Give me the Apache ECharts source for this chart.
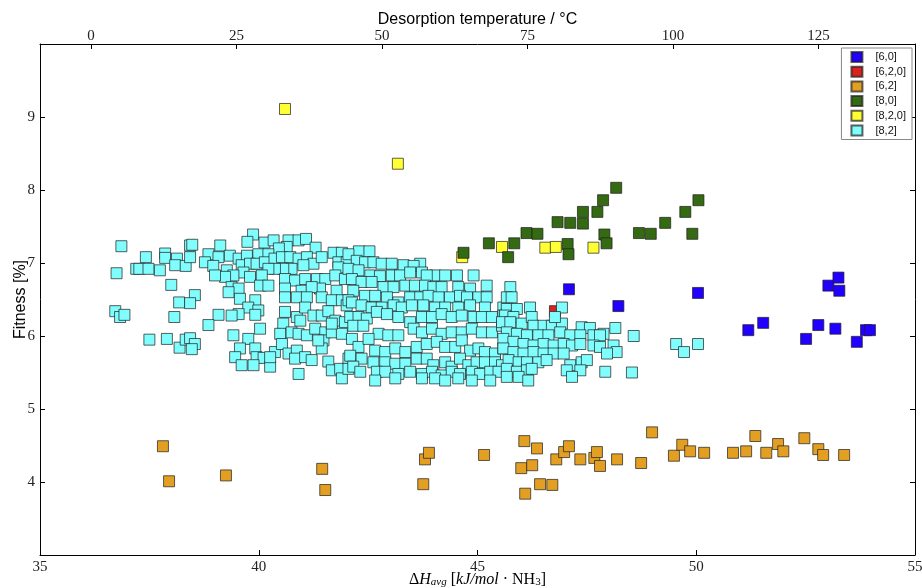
<!DOCTYPE html>
<html><head><meta charset="utf-8">
<script src="https://cdn.jsdelivr.net/npm/echarts@6/dist/echarts.min.js"></script>
<style>html,body{margin:0;padding:0;background:#fff}#c{width:922px;height:588px}</style>
</head><body><div id="c"></div>
<script>
const seriesNames = ['[6,0]','[6,2,0]','[6,2]','[8,0]','[8,2,0]','[8,2]'];
const seriesColors = ['#2200ff','#d9231c','#e29f22','#336a12','#ffff33','#80fdfd'];
const drawOrder = [0,1,2,4,3,5];

const pts60 = [[47.09,6.64],[48.22,6.41],[50.04,6.59],[51.19,6.08],[51.53,6.18],[52.51,5.96],[52.79,6.15],[53.02,6.69],[53.25,6.80],[53.27,6.62],[53.18,6.10],[53.67,5.92],[53.88,6.08],[53.97,6.08]];
const pts620 = [[46.77,6.34]];
const pts62 = [[37.81,4.49],[37.95,4.01],[39.25,4.09],[41.45,4.18],[41.52,3.89],[43.76,3.97],[43.80,4.31],[43.89,4.40],[45.15,4.37],[46.07,4.56],[46.0,4.19],[46.09,3.84],[46.25,4.23],[46.36,4.46],[46.43,3.97],[46.71,3.96],[46.80,4.31],[46.98,4.41],[47.09,4.49],[47.35,4.31],[47.67,4.33],[47.73,4.41],[47.80,4.22],[48.19,4.31],[48.74,4.26],[48.99,4.68],[49.49,4.36],[49.68,4.51],[49.86,4.42],[50.18,4.40],[50.84,4.40],[51.14,4.42],[51.35,4.63],[51.60,4.40],[51.87,4.52],[51.99,4.42],[52.47,4.60],[52.79,4.45],[52.90,4.37],[53.38,4.37]];
const pts80 = [[44.68,7.14],[45.26,7.27],[45.70,7.08],[45.84,7.27],[46.12,7.41],[46.37,7.40],[46.83,7.56],[47.12,7.55],[47.41,7.70],[47.41,7.54],[47.06,7.26],[47.08,7.12],[47.74,7.70],[47.87,7.86],[48.17,8.03],[47.90,7.39],[47.95,7.27],[48.69,7.41],[48.96,7.40],[49.29,7.55],[49.75,7.70],[50.05,7.86],[49.91,7.40]];
const pts820 = [[40.60,9.11],[43.18,8.36],[44.65,7.08],[45.56,7.22],[46.55,7.21],[46.79,7.22],[47.65,7.21]];
const pts82 = [
[36.86,7.23],[37.42,7.08],[37.86,7.13],[37.86,7.07],[38.13,7.06],[36.75,6.86],[37.20,6.92],[37.27,6.92],[37.48,6.92],[37.74,6.90],[38.09,6.97],[38.33,6.96],[38.00,6.70],[38.18,6.46],[36.72,6.34],[36.83,6.26],[36.93,6.29],[38.07,6.26],[37.50,5.95],[37.90,5.96],[38.19,5.84],[38.33,5.95],[38.43,7.24],
[39.87,7.39],[39.74,7.29],[40.13,7.28],[40.34,7.31],[40.68,7.31],[40.91,7.31],[41.08,7.33],[41.30,7.21],[40.64,7.22],[40.46,7.20],[38.48,7.25],[39.12,7.24],[38.85,7.12],[39.08,7.08],[39.34,7.10],[39.54,7.06],[39.73,7.10],[39.99,7.12],[40.22,7.12],[38.43,7.08],[38.77,7.01],[38.96,6.96],[39.27,6.90],[39.61,6.97],[39.80,6.99],[39.95,6.99],[40.14,7.01],[40.36,7.06],[40.53,7.08],[40.72,7.08],[40.91,7.06],[41.10,7.08],[41.25,6.99],[41.44,7.08],[41.71,7.14],[41.90,7.14],[41.82,7.01],[42.01,7.01],[41.82,6.94],[41.02,6.97],[40.75,6.92],[40.56,6.92],[40.37,6.92],[40.22,6.92],[39.65,6.87],[39.42,6.83],[39.23,6.81],[39.00,6.83],[39.80,6.81],[40.07,6.83],[40.60,6.78],[40.83,6.76],[41.06,6.78],[41.33,6.78],[41.52,6.78],[41.75,6.83],[41.97,6.78],[39.38,6.67],[39.54,6.65],[40.03,6.69],[40.22,6.69],[40.60,6.65],[40.98,6.62],[41.40,6.65],[41.21,6.67],[41.78,6.62],[39.31,6.60],[39.57,6.51],[39.92,6.49],[40.60,6.53],[40.87,6.53],[41.10,6.53],[41.44,6.53],[41.67,6.49],[41.90,6.49],[42.01,6.42],[38.54,6.56],[38.43,6.45],[39.76,6.39],[39.99,6.35],[39.54,6.30],[39.38,6.28],[39.08,6.29],[38.85,6.15],[39.92,6.29],[40.60,6.33],[40.87,6.26],[40.95,6.21],[41.06,6.39],[41.25,6.28],[41.44,6.28],[41.59,6.34],[41.75,6.21],[41.97,6.19],[40.56,6.17],[40.49,6.03],[40.75,6.05],[40.91,6.03],[41.10,6.01],[41.29,6.10],[41.52,6.05],[41.48,5.94],[41.67,6.05],[41.90,6.03],[40.03,6.10],[39.42,6.01],[39.76,5.96],[38.43,5.97],[38.54,5.89],[38.47,5.82],[39.57,5.83],[39.92,5.83],[39.95,5.71],[40.11,5.70],[39.46,5.71],[39.61,5.60],[39.88,5.60],[40.26,5.58],[40.37,5.78],[40.53,5.89],[40.68,5.76],[40.87,5.80],[40.83,5.69],[41.06,5.71],[41.21,5.67],[41.44,5.83],[41.36,5.94],[40.91,5.48],[41.59,5.65],[41.67,5.53],[41.86,5.55],[41.90,5.42],[42.05,5.69],[42.05,5.55],[40.26,5.71],[41.67,6.17],
[42.29,7.16],[42.53,7.16],[42.05,7.12],[42.24,7.03],[42.43,7.01],[42.62,7.01],[42.81,6.99],[43.04,6.99],[43.31,6.97],[43.69,6.99],[43.54,6.96],[42.05,6.92],[42.28,6.90],[42.55,6.83],[42.77,6.82],[43.04,6.83],[43.23,6.83],[43.46,6.87],[43.73,6.87],[44.03,6.83],[44.26,6.83],[44.53,6.83],[44.91,6.83],[43.84,6.83],[42.13,6.78],[42.35,6.74],[42.58,6.74],[42.85,6.67],[43.08,6.67],[43.35,6.69],[43.57,6.69],[43.80,6.69],[43.99,6.67],[44.18,6.67],[44.56,6.67],[44.83,6.65],[45.21,6.69],[42.16,6.62],[42.43,6.55],[42.66,6.55],[42.93,6.53],[43.19,6.46],[43.46,6.53],[43.69,6.53],[43.88,6.55],[44.11,6.53],[44.37,6.53],[44.60,6.55],[44.76,6.53],[45.02,6.53],[45.21,6.53],[42.05,6.49],[42.13,6.46],[42.35,6.42],[42.58,6.39],[42.81,6.39],[43.08,6.42],[43.27,6.39],[43.50,6.42],[43.76,6.42],[44.03,6.39],[44.26,6.39],[44.56,6.39],[44.83,6.42],[45.17,6.39],[45.59,6.39],[42.09,6.26],[42.28,6.26],[42.47,6.24],[42.70,6.33],[42.93,6.30],[43.19,6.26],[43.46,6.19],[43.73,6.26],[43.96,6.26],[44.18,6.30],[44.41,6.26],[44.64,6.28],[44.91,6.26],[45.10,6.26],[45.33,6.26],[45.59,6.28],[42.16,6.14],[42.39,6.14],[42.74,6.03],[42.96,6.01],[43.19,6.01],[43.54,6.10],[43.73,6.05],[43.96,6.10],[44.18,6.03],[44.41,6.05],[44.64,6.05],[44.87,6.10],[45.10,6.05],[45.33,6.05],[45.56,6.14],[42.13,5.96],[42.28,5.85],[42.51,5.96],[42.66,5.80],[42.89,5.78],[43.12,5.83],[43.35,5.78],[43.61,5.85],[43.84,5.89],[44.07,5.92],[44.26,5.85],[44.49,5.85],[44.64,5.94],[44.83,5.80],[45.02,5.83],[45.17,5.78],[45.40,5.76],[45.59,5.83],[42.09,5.73],[42.35,5.69],[42.62,5.64],[42.89,5.64],[43.12,5.62],[43.35,5.62],[43.61,5.69],[43.84,5.69],[43.99,5.60],[44.26,5.64],[44.41,5.58],[44.60,5.69],[44.79,5.60],[44.98,5.64],[45.17,5.64],[45.40,5.64],[45.56,5.60],[42.16,5.58],[42.32,5.51],[42.70,5.51],[42.89,5.51],[43.19,5.48],[43.46,5.51],[43.73,5.48],[43.96,5.51],[44.18,5.46],[44.41,5.51],[44.60,5.48],[44.87,5.51],[45.06,5.48],[45.29,5.51],[45.48,5.51],[42.66,5.39],[43.12,5.42],[43.73,5.42],[44.03,5.42],[44.26,5.39],[44.56,5.42],[44.87,5.39],[45.29,5.39],
[45.75,6.67],[45.67,6.53],[45.78,6.53],[45.67,6.37],[45.90,6.37],[46.20,6.39],[46.93,6.39],[45.63,6.28],[45.82,6.26],[45.56,6.19],[45.75,6.19],[46.01,6.17],[46.24,6.26],[46.28,6.14],[46.51,6.14],[46.70,6.14],[46.93,6.17],[46.77,6.26],[47.38,6.12],[47.57,6.11],[47.88,6.03],[48.15,6.11],[48.57,6.00],[45.67,6.05],[45.90,6.03],[46.13,6.01],[46.39,6.01],[46.62,6.01],[46.89,6.05],[47.12,6.01],[47.35,6.01],[47.65,6.01],[47.80,6.01],[45.59,5.96],[45.82,5.92],[46.05,5.89],[46.28,5.87],[46.51,5.89],[46.74,5.87],[46.97,5.89],[47.16,5.87],[47.35,5.89],[47.65,5.87],[47.80,5.85],[48.11,5.87],[48.18,5.78],[47.96,5.76],[45.59,5.83],[45.82,5.78],[46.05,5.76],[46.28,5.78],[46.51,5.76],[46.74,5.76],[46.97,5.76],[45.71,5.67],[45.94,5.64],[46.13,5.64],[46.39,5.64],[46.58,5.67],[47.12,5.60],[47.38,5.64],[47.50,5.67],[45.67,5.55],[45.90,5.51],[46.13,5.53],[46.24,5.55],[47.04,5.53],[47.35,5.53],[45.67,5.44],[45.94,5.44],[46.16,5.39],[47.16,5.44],[47.92,5.51],[48.53,5.50],
[49.54,5.89],[50.04,5.89],[49.72,5.78]
];
const allPoints = [pts60, pts620, pts62, pts80, pts820, pts82];

const xTicks = [35,40,45,50,55];
const yTicks = [4,5,6,7,8,9];
const tempTicks = [0,25,50,75,100,125];

const serif = 'Liberation Serif';
const sans = 'Liberation Sans';

const chart = echarts.init(document.getElementById('c'));
const series = drawOrder.map(i => ({
  name: seriesNames[i],
  type: 'scatter',
  symbol: 'rect',
  symbolSize: 11,
  data: allPoints[i],
  itemStyle: {color: seriesColors[i], borderColor: 'rgba(30,30,30,0.7)', borderWidth: 1, opacity: 1},
  emphasis: {disabled: true},
  xAxisIndex: 0, yAxisIndex: 0
}));

const tickCommon = {show: true, inside: true, length: 5, lineStyle: {color: '#000', width: 1}};
chart.setOption({
  animation: false,
  backgroundColor: '#fff',
  grid: {left: 40, right: 7, top: 44, bottom: 33, containLabel: false, outerBoundsMode: 'none'},
  legend: {
    data: seriesNames,
    orient: 'vertical',
    right: 10, top: 48,
    padding: [3, 6, 3, 9],
    itemWidth: 11, itemHeight: 10, itemGap: 2.7,
    icon: 'rect',
    borderColor: '#888', borderWidth: 1, backgroundColor: '#fff',
    textStyle: {fontFamily: sans, fontSize: 11, color: '#111', padding: [0, 0, 0, 8]},
    selectedMode: false
  },
  xAxis: [
    {
      type: 'value', min: 35, max: 55, interval: 5, position: 'bottom',
      name: '{d|Δ}{i|H}{s|avg}{r| [}{i|kJ/mol}{r| · NH}{s2|3}{r|]}',
      nameLocation: 'middle', nameGap: 16, nameMoveOverlap: false,
      nameTextStyle: {
        fontFamily: serif, fontSize: 16, color: '#000',
        rich: {
          d: {fontFamily: serif, fontSize: 16, color: '#000'},
          r: {fontFamily: serif, fontSize: 16, color: '#000'},
          i: {fontFamily: serif, fontSize: 16, fontStyle: 'italic', color: '#000'},
          s: {fontFamily: serif, fontSize: 11, fontStyle: 'italic', color: '#000', verticalAlign: 'bottom', padding: [6, 0, 0, 0]},
          s2: {fontFamily: serif, fontSize: 11, color: '#000', verticalAlign: 'bottom', padding: [6, 0, 0, 0]}
        }
      },
      axisLine: {show: true, onZero: false, lineStyle: {color: '#000', width: 1}},
      axisTick: Object.assign({customValues: xTicks}, tickCommon),
      axisLabel: {customValues: xTicks, fontFamily: serif, fontSize: 15, color: '#222', margin: 5, showMinLabel: true, showMaxLabel: true},
      splitLine: {show: false}
    },
    {
      type: 'value', min: -8.76, max: 141.6, position: 'top',
      name: 'Desorption temperature / °C',
      nameLocation: 'middle', nameGap: 16, nameMoveOverlap: false,
      nameTextStyle: {fontFamily: sans, fontSize: 16, color: '#000'},
      axisLine: {show: true, onZero: false, lineStyle: {color: '#000', width: 1}},
      axisTick: Object.assign({customValues: tempTicks}, tickCommon),
      axisLabel: {customValues: tempTicks, fontFamily: serif, fontSize: 15, color: '#222', margin: 0},
      splitLine: {show: false}
    }
  ],
  yAxis: [
    {
      type: 'value', min: 3, max: 10, interval: 1, position: 'left',
      name: 'Fitness [%]', nameLocation: 'middle', nameGap: 11, nameRotate: 90, nameMoveOverlap: false,
      nameTextStyle: {fontFamily: sans, fontSize: 16, color: '#000'},
      axisLine: {show: true, onZero: false, lineStyle: {color: '#000', width: 1}},
      axisTick: Object.assign({customValues: yTicks}, tickCommon),
      axisLabel: {customValues: yTicks, fontFamily: serif, fontSize: 15, color: '#222', margin: 5},
      splitLine: {show: false}
    },
    {
      type: 'value', min: 3, max: 10, interval: 1, position: 'right',
      axisLine: {show: true, onZero: false, lineStyle: {color: '#000', width: 1}},
      axisTick: Object.assign({customValues: yTicks}, tickCommon),
      axisLabel: {show: false},
      splitLine: {show: false}
    }
  ],
  series: series
});
</script>
</body></html>
